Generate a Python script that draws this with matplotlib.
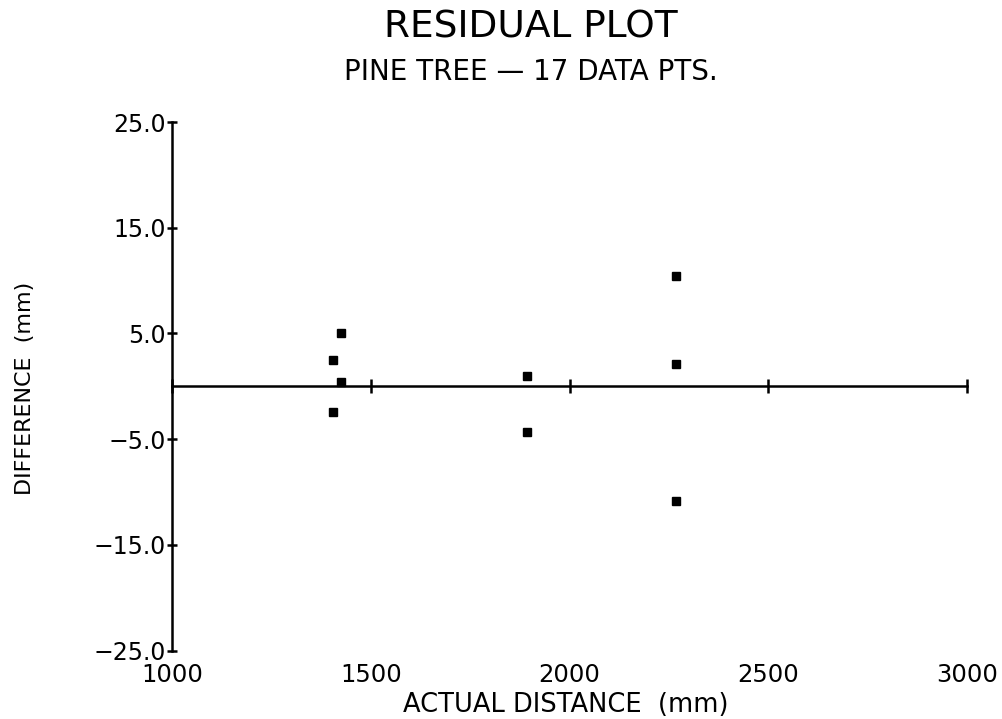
import numpy as np
import matplotlib.pyplot as plt

# データ (ピクセル位置から読み取った値)
actual_mm = [1406, 1425, 1425, 1406, 1893, 1893, 2267, 2267, 2267]
diff_mm = [2.5, 5.0, 0.4, -2.4, 1.0, -4.3, 10.4, 2.1, -10.8]

xticks = [1000, 1500, 2000, 2500, 3000]
yticks = [25, 15, 5, -5, -15, -25]
ytick_labels = ["25.0", "15.0", "5.0", "\u22125.0", "\u221215.0", "\u221225.0"]

plt.rcParams['font.family'] = ['DejaVu Sans']

fig = plt.figure(figsize=(10.03, 7.19), dpi=100)
ax = fig.add_axes([0.1715, 0.095, 0.7926, 0.7353])

ax.plot(actual_mm, diff_mm, 's', color='black', markersize=5.5)

ax.set_xlim(1000, 3000)
ax.set_ylim(-25, 25)

# 軸線: 左とゼロの線だけ
ax.spines['top'].set_visible(False)
ax.spines['right'].set_visible(False)
ax.spines['left'].set_linewidth(1.8)
ax.spines['bottom'].set_position(('data', 0))
ax.spines['bottom'].set_linewidth(1.8)

ax.set_xticks(xticks)
ax.tick_params(axis='x', direction='inout', length=10, width=1.8, labelbottom=False)
ax.set_yticks(yticks)
ax.set_yticklabels(ytick_labels)
ax.tick_params(axis='y', direction='inout', length=7, width=1.8, labelsize=17, pad=1)

# 下側の目盛りラベル
sec = ax.secondary_xaxis('bottom')
sec.set_xticks(xticks)
sec.set_xticklabels([str(v) for v in xticks])
sec.tick_params(length=0, pad=8.5, labelsize=17.5)
sec.spines['bottom'].set_visible(False)

fig.text(0.529, 0.9624, 'RESIDUAL PLOT', ha='center', va='center', fontsize=27)
fig.text(0.529, 0.8999, 'PINE TREE \u2014 17 DATA PTS.', ha='center', va='center', fontsize=20)
fig.text(25 / 1003, 1 - 388 / 719, 'DIFFERENCE  (mm)', rotation=90, ha='center', va='center', fontsize=16)
fig.text(566 / 1003, 1 - 705 / 719, 'ACTUAL DISTANCE  (mm)', ha='center', va='center', fontsize=18.5)

plt.savefig('out.png', dpi=100)
